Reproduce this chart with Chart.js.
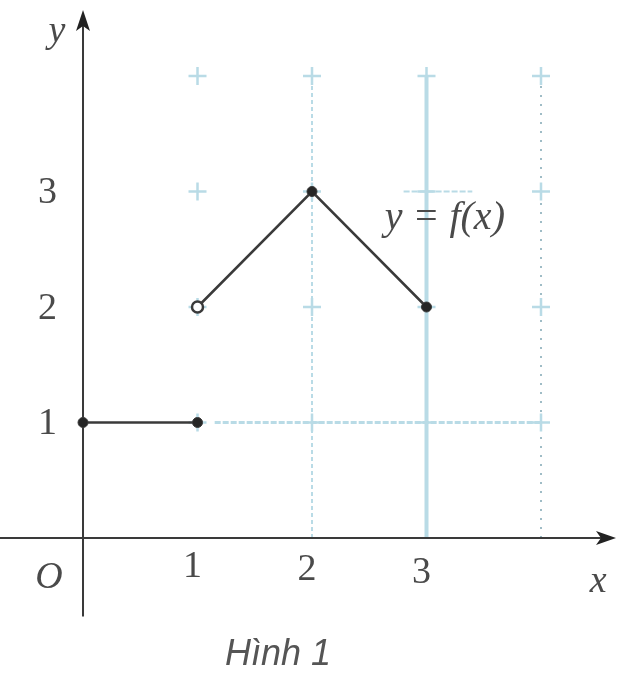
<!DOCTYPE html>
<html>
<head>
<meta charset="utf-8">
<script src="https://cdn.jsdelivr.net/npm/chart.js@4/dist/chart.umd.min.js"></script>
<style>
    html, body { margin: 0; padding: 0; background: #fff; }
    #wrap { width: 620px; height: 684px; position: relative; }
</style>
</head>
<body>
<div id="wrap"><canvas id="chart"></canvas></div>
<script>
// piecewise function pieces
const flatX = [0, 1];
const flatY = [1, 1];
const peakX = [1, 2, 3];
const peakY = [2, 3, 2];

// open (excluded) end points of each piece
const flatOpen = [false, false];
const peakOpen = [true, false, false];

const xTickValues = [1, 2, 3];
const xTickLabels = ['1', '2', '3'];
const yTickValues = [1, 2, 3];
const yTickLabels = ['1', '2', '3'];

const gridXValues = [1, 2, 3, 4];
const gridYValues = [1, 2, 3, 4];

const INK = '#3a3a3a';
const GRID = '#b9dbe6';

function toPoints(xs, ys) {
    return xs.map((x, i) => ({ x, y: ys[i] }));
}

function pieceDataset(xs, ys, open) {
    return {
        data: toPoints(xs, ys),
        showLine: true,
        borderColor: INK,
        borderWidth: 2.5,
        pointRadius: open.map((o) => (o ? 5.5 : 5)),
        pointBackgroundColor: open.map((o) => (o ? '#ffffff' : '#262626')),
        pointBorderColor: INK,
        pointBorderWidth: open.map((o) => (o ? 2.5 : 1)),
    };
}

const axesPlugin = {
    id: 'axes',
    beforeDatasetsDraw(chart) {
        const { ctx } = chart;
        const xs = chart.scales.x;
        const ys = chart.scales.y;
        const px = (v) => xs.getPixelForValue(v);
        const py = (v) => ys.getPixelForValue(v);

        // faint blue grid over the first quadrant
        ctx.save();
        ctx.strokeStyle = GRID;
        ctx.lineWidth = 2;
        ctx.setLineDash([4, 3]);
        ctx.beginPath();
        ctx.moveTo(px(2), py(0));
        ctx.lineTo(px(2), py(4));
        ctx.stroke();

        ctx.strokeStyle = '#9fbcc6';
        ctx.setLineDash([2, 7]);
        ctx.beginPath();
        ctx.moveTo(px(4), py(0));
        ctx.lineTo(px(4), py(4));
        ctx.stroke();

        ctx.strokeStyle = GRID;
        ctx.setLineDash([]);
        ctx.lineWidth = 4;
        ctx.beginPath();
        ctx.moveTo(px(3), py(0));
        ctx.lineTo(px(3), py(4));
        ctx.stroke();

        ctx.lineWidth = 3;
        ctx.setLineDash([6, 2]);
        ctx.beginPath();
        ctx.moveTo(px(1.15), py(1));
        ctx.lineTo(px(4), py(1));
        ctx.stroke();
        ctx.lineWidth = 2;
        ctx.beginPath();
        ctx.moveTo(px(2.8), py(3));
        ctx.lineTo(px(3.4), py(3));
        ctx.stroke();
        ctx.setLineDash([]);

        // small crosses at the grid nodes
        ctx.lineWidth = 2.5;
        gridXValues.forEach((gx) => {
            gridYValues.forEach((gy) => {
                const cx = px(gx);
                const cy = py(gy);
                ctx.beginPath();
                ctx.moveTo(cx - 9, cy);
                ctx.lineTo(cx + 9, cy);
                ctx.moveTo(cx, cy - 9);
                ctx.lineTo(cx, cy + 9);
                ctx.stroke();
            });
        });
        ctx.restore();

        // axes with arrows
        ctx.save();
        ctx.strokeStyle = INK;
        ctx.fillStyle = '#222';
        ctx.lineWidth = 2;
        const x0 = px(0);
        const y0 = py(0);
        ctx.beginPath();
        ctx.moveTo(0, y0);
        ctx.lineTo(chart.width - 8, y0);
        ctx.moveTo(x0, py(-0.68));
        ctx.lineTo(x0, 18);
        ctx.stroke();

        const right = chart.width - 4;
        ctx.beginPath();
        ctx.moveTo(right, y0);
        ctx.lineTo(right - 20, y0 - 7);
        ctx.lineTo(right - 15, y0);
        ctx.lineTo(right - 20, y0 + 7);
        ctx.closePath();
        ctx.fill();

        ctx.beginPath();
        ctx.moveTo(x0, 10);
        ctx.lineTo(x0 - 7, 31);
        ctx.lineTo(x0, 26);
        ctx.lineTo(x0 + 7, 31);
        ctx.closePath();
        ctx.fill();
        ctx.restore();
    },
    afterDatasetsDraw(chart) {
        const { ctx } = chart;
        const xs = chart.scales.x;
        const ys = chart.scales.y;
        const px = (v) => xs.getPixelForValue(v);
        const py = (v) => ys.getPixelForValue(v);

        ctx.save();
        ctx.fillStyle = '#4a4a4a';
        ctx.textAlign = 'center';
        ctx.textBaseline = 'middle';
        ctx.font = '38px "Liberation Serif", serif';
        xTickValues.forEach((v, i) => {
            ctx.fillText(xTickLabels[i], px(v) - 5, py(0) + 29 + i * 3);
        });
        ctx.textAlign = 'right';
        yTickValues.forEach((v, i) => {
            ctx.fillText(yTickLabels[i], px(0) - 26, py(v) + 2);
        });

        ctx.font = 'italic 38px "Liberation Serif", serif';
        ctx.textAlign = 'center';
        ctx.fillText('O', px(0) - 34, py(0) + 40);
        ctx.fillText('x', px(4.5), py(0) + 44);
        ctx.fillText('y', px(0) - 26, 32);
        ctx.font = 'italic 40px "Liberation Serif", serif';
        ctx.fillText('y = f(x)', px(3.16), py(2.77));

        ctx.font = 'italic 36px "Liberation Sans", sans-serif';
        ctx.fillStyle = '#555';
        ctx.fillText('Hình 1', 278, 655);
        ctx.restore();
    },
};

new Chart(document.getElementById('chart'), {
    type: 'scatter',
    data: {
        datasets: [
            pieceDataset(flatX, flatY, flatOpen),
            pieceDataset(peakX, peakY, peakOpen),
        ],
    },
    options: {
        responsive: true,
        maintainAspectRatio: false,
        animation: false,
        layout: { padding: 0, autoPadding: false },
        plugins: {
            legend: { display: false },
            tooltip: { enabled: false },
        },
        scales: {
            x: { display: false, min: -0.725, max: 4.69 },
            y: { display: false, min: -1.264, max: 4.658 },
        },
    },
    plugins: [axesPlugin],
});
</script>
</body>
</html>
